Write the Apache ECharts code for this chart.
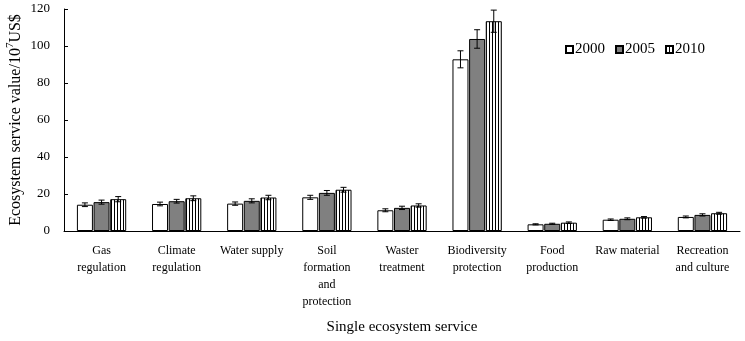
<!DOCTYPE html>
<html>
<head>
<meta charset="utf-8">
<script src="https://cdn.jsdelivr.net/npm/echarts@6/dist/echarts.min.js"></script>
<style>
  html, body { margin: 0; padding: 0; background: #fff; }
  #chart { width: 745px; height: 341px; }
</style>
</head>
<body>
<div id="chart"></div>
<script>
// categories and values (10^7 US$)
var categories = [
    "Gas\nregulation", "Climate\nregulation", "Water supply",
    "Soil\nformation\nand\nprotection", "Waster\ntreatment",
    "Biodiversity\nprotection", "Food\nproduction", "Raw material",
    "Recreation\nand culture"
];
var years = ["2000", "2005", "2010"];
var values2000 = [14.2, 14.6, 14.8, 18.2, 11.2, 92.8, 3.6, 6.1, 7.6];
var values2005 = [15.6, 16.1, 16.3, 20.6, 12.5, 103.8, 3.9, 6.6, 8.7];
var values2010 = [17.2, 17.7, 18.1, 22.3, 13.8, 113.4, 4.5, 7.4, 9.6];
var errors2000 = [1.0, 1.0, 0.9, 1.1, 0.8, 4.6, 0.3, 0.4, 0.5];
var errors2005 = [1.1, 1.0, 1.1, 1.3, 0.9, 5.0, 0.3, 0.5, 0.6];
var errors2010 = [1.4, 1.3, 1.2, 1.3, 0.9, 6.0, 0.4, 0.4, 0.5];
var yTicks = [0, 20, 40, 60, 80, 100, 120];

var font = "Liberation Serif";

// vertical stripe fill for 2010
function stripePattern() {
    var c = document.createElement("canvas");
    c.width = 3;
    c.height = 4;
    var ctx = c.getContext("2d");
    ctx.fillStyle = "#fff";
    ctx.fillRect(0, 0, 3, 4);
    ctx.fillStyle = "#000";
    ctx.fillRect(0, 0, 1, 4);
    return c;
}

var barWidth = 16;
var fills = ["#ffffff", "#808080", { image: stripePattern(), repeat: "repeat" }];
var valueSets = [values2000, values2005, values2010];
var errorSets = [errors2000, errors2005, errors2010];

var series = [];
years.forEach(function (year, s) {
    series.push({
        name: year,
        type: "bar",
        barWidth: barWidth,
        barGap: "4%",
        itemStyle: { color: fills[s], borderColor: "#000", borderWidth: 1 },
        data: valueSets[s],
        z: 2
    });
});

// error bars drawn with a custom series, one per year
years.forEach(function (year, s) {
    var data = valueSets[s].map(function (v, i) {
        return [i, v - errorSets[s][i], v + errorSets[s][i]];
    });
    series.push({
        type: "custom",
        z: 5,
        silent: true,
        data: data,
        renderItem: function (params, api) {
            var idx = api.value(0);
            var lo = api.coord([idx, api.value(1)]);
            var hi = api.coord([idx, api.value(2)]);
            var x = lo[0] + (s - 1) * barWidth * 1.04;
            var cap = 3;
            var style = { stroke: "#000", lineWidth: 1 };
            return {
                type: "group",
                children: [
                    { type: "line", shape: { x1: x, y1: lo[1], x2: x, y2: hi[1] }, style: style },
                    { type: "line", shape: { x1: x - cap, y1: lo[1], x2: x + cap, y2: lo[1] }, style: style },
                    { type: "line", shape: { x1: x - cap, y1: hi[1], x2: x + cap, y2: hi[1] }, style: style }
                ]
            };
        }
    });
});

var chart = echarts.init(document.getElementById("chart"));
chart.setOption({
    animation: false,
    backgroundColor: "#fff",
    textStyle: { fontFamily: font },
    grid: { left: 64, right: 5, top: 9, bottom: 110, containLabel: false, outerBoundsMode: "none" },
    legend: {
        data: years,
        left: 560,
        top: 37,
        itemWidth: 7,
        itemHeight: 7,
        itemGap: 10,
        icon: "rect",
        textStyle: { fontFamily: font, fontSize: 15, color: "#000", padding: [0, 0, 0, -3] }
    },
    xAxis: {
        type: "category",
        data: categories,
        name: "Single ecosystem service",
        nameLocation: "middle",
        nameGap: 89,
        nameTextStyle: { fontFamily: font, fontSize: 15, color: "#000" },
        axisLine: { lineStyle: { color: "#000", width: 1 } },
        axisTick: { inside: true, length: 4, lineStyle: { color: "#000" } },
        axisLabel: {
            interval: 0,
            margin: 11,
            fontFamily: font,
            fontSize: 12,
            lineHeight: 17,
            color: "#000"
        }
    },
    yAxis: {
        type: "value",
        min: yTicks[0],
        max: yTicks[yTicks.length - 1],
        interval: yTicks[1] - yTicks[0],
        name: "{a|Ecosystem service value/10}{s|7}{a|US$}",
        nameLocation: "middle",
        nameGap: 38,
        nameMoveOverlap: false,
        nameRotate: 90,
        nameTextStyle: {
            rich: {
                a: { fontFamily: font, fontSize: 16, color: "#000" },
                s: { fontFamily: font, fontSize: 11, color: "#000", verticalAlign: "top", padding: [0, 0, 10, 0] }
            }
        },
        axisLine: { show: true, lineStyle: { color: "#000", width: 1 } },
        axisTick: { show: true, inside: true, length: 4, lineStyle: { color: "#000" } },
        splitLine: { show: false },
        axisLabel: { fontFamily: font, fontSize: 13, color: "#000", margin: 14 }
    },
    series: series
});
</script>
</body>
</html>
